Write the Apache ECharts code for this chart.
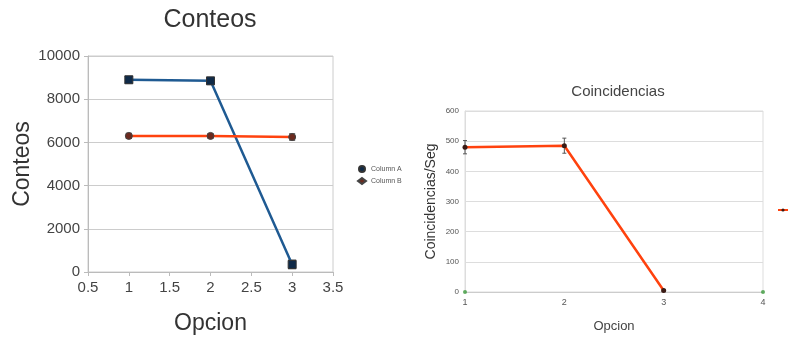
<!DOCTYPE html>
<html>
<head>
<meta charset="utf-8">
<script src="https://cdn.jsdelivr.net/npm/echarts@6/dist/echarts.min.js"></script>
<style>
  html, body { margin: 0; padding: 0; background: #fff; }
  #chart { width: 793px; height: 343px; }
</style>
</head>
<body>
<div id="chart"></div>
<script>
// left chart: Conteos
const opciones = [1, 2, 3]
const columnA = [8900, 8850, 350]
const columnB = [6300, 6300, 6250]
const errA = [150, 150, 200]
const errB = [120, 100, 150]
const conteosTicks = [0, 2000, 4000, 6000, 8000, 10000]

// right chart: Coincidencias
const opcionesC = [1, 2, 3]
const coincidencias = [480, 485, 5]
const errC = [22, 25, 3]
const extraX = [1, 4]
const extraY = [0, 0]

const font = 'Liberation Sans, Arial, sans-serif'
const textGray = '#444'

function errorBars(xs, ys, errs, xAxisIndex, yAxisIndex, color, cap) {
  return {
    type: 'custom',
    xAxisIndex, yAxisIndex,
    silent: true,
    z: 1,
    data: xs.map((x, i) => [x, ys[i] - errs[i], ys[i] + errs[i]]),
    renderItem(params, api) {
      const lo = api.coord([api.value(0), api.value(1)])
      const hi = api.coord([api.value(0), api.value(2)])
      const st = { stroke: color, lineWidth: 1 }
      return {
        type: 'group',
        children: [
          { type: 'line', shape: { x1: lo[0], y1: lo[1], x2: hi[0], y2: hi[1] }, style: st },
          { type: 'line', shape: { x1: lo[0] - cap, y1: lo[1], x2: lo[0] + cap, y2: lo[1] }, style: st },
          { type: 'line', shape: { x1: hi[0] - cap, y1: hi[1], x2: hi[0] + cap, y2: hi[1] }, style: st }
        ]
      }
    }
  }
}

const chart = echarts.init(document.getElementById('chart'))
chart.setOption({
  animation: false,
  backgroundColor: '#fff',
  title: [
    { text: 'Conteos', left: 205, top: 3, textAlign: 'center',
      textStyle: { fontFamily: font, fontSize: 25, fontWeight: 'normal', color: '#333' } },
    { text: 'Coincidencias', left: 613, top: 79, textAlign: 'center',
      textStyle: { fontFamily: font, fontSize: 15, fontWeight: 'normal', color: '#444' } }
  ],
  legend: [
    { orient: 'vertical', left: 352, top: 160, itemWidth: 8, itemHeight: 6, itemGap: 4,
      textStyle: { fontFamily: font, fontSize: 7, color: '#555' },
      data: [{ name: 'Column A', icon: 'circle' }, { name: 'Column B', icon: 'diamond' }] },
    { orient: 'vertical', left: 772, top: 203, itemWidth: 10, itemHeight: 4,
      textStyle: { fontFamily: font, fontSize: 4, color: '#bbb' },
      data: ['Column'] }
  ],
  grid: [
    { left: 88, right: 460, top: 56, bottom: 71, show: true, borderColor: '#ccc', borderWidth: 1 },
    { left: 465, right: 30, top: 111, bottom: 51, show: true, borderColor: '#ddd', borderWidth: 1 }
  ],
  xAxis: [
    { gridIndex: 0, type: 'value', min: 0.5, max: 3.5, interval: 0.5,
      name: 'Opcion', nameLocation: 'middle', nameGap: 40,
      nameTextStyle: { fontFamily: font, fontSize: 23, color: '#333' },
      axisLine: { lineStyle: { color: '#bbb' } },
      axisTick: { show: true, inside: false, length: 4, lineStyle: { color: '#bbb' } },
      axisLabel: { fontFamily: font, fontSize: 15, color: textGray, margin: 8 },
      splitLine: { show: false } },
    { gridIndex: 1, type: 'value', min: 1, max: 4, interval: 1,
      name: 'Opcion', nameLocation: 'middle', nameGap: 28,
      nameTextStyle: { fontFamily: font, fontSize: 13, color: '#444' },
      axisLine: { lineStyle: { color: '#ccc' } },
      axisTick: { show: false },
      axisLabel: { fontFamily: font, fontSize: 9, color: '#555', margin: 6 },
      splitLine: { show: false } }
  ],
  yAxis: [
    { gridIndex: 0, type: 'value', min: conteosTicks[0], max: conteosTicks[conteosTicks.length - 1], interval: 2000,
      name: 'Conteos', nameLocation: 'middle', nameGap: 52, nameRotate: 90,
      nameTextStyle: { fontFamily: font, fontSize: 23, color: '#333' },
      axisLine: { show: true, lineStyle: { color: '#bbb' } },
      axisTick: { show: true, length: 4, lineStyle: { color: '#bbb' } },
      axisLabel: { fontFamily: font, fontSize: 15, color: textGray, margin: 8, formatter: v => String(v) },
      splitLine: { lineStyle: { color: '#ccc' } } },
    { gridIndex: 1, type: 'value', min: 0, max: 600, interval: 100,
      name: 'Coincidencias/Seg', nameLocation: 'middle', nameGap: 27, nameRotate: 90,
      nameTextStyle: { fontFamily: font, fontSize: 14, color: '#333' },
      axisLine: { show: true, lineStyle: { color: '#ddd' } },
      axisTick: { show: false },
      axisLabel: { fontFamily: font, fontSize: 8, color: '#555', margin: 6 },
      splitLine: { lineStyle: { color: '#ddd' } } }
  ],
  series: [
    errorBars(opciones, columnA, errA, 0, 0, '#222', 4),
    errorBars(opciones, columnB, errB, 0, 0, '#444', 3),
    { name: 'Column A', type: 'line', xAxisIndex: 0, yAxisIndex: 0,
      data: opciones.map((x, i) => [x, columnA[i]]),
      symbol: 'rect', symbolSize: 8,
      lineStyle: { color: '#1f5a92', width: 2.5 },
      itemStyle: { color: '#0f2a48', borderColor: '#333', borderWidth: 1 } },
    { name: 'Column B', type: 'line', xAxisIndex: 0, yAxisIndex: 0,
      data: opciones.map((x, i) => [x, columnB[i]]),
      symbol: 'circle', symbolSize: 7,
      lineStyle: { color: '#ff420e', width: 2.5 },
      itemStyle: { color: '#6b2a1e', borderColor: '#444', borderWidth: 1 } },
    errorBars(opcionesC, coincidencias, errC, 1, 1, '#555', 2),
    { name: 'Column', type: 'line', xAxisIndex: 1, yAxisIndex: 1,
      data: opcionesC.map((x, i) => [x, coincidencias[i]]),
      symbol: 'circle', symbolSize: 5,
      lineStyle: { color: '#ff420e', width: 2.5 },
      itemStyle: { color: '#3a1a14' } },
    { name: 'extra', type: 'scatter', xAxisIndex: 1, yAxisIndex: 1,
      data: extraX.map((x, i) => [x, extraY[i]]),
      symbol: 'circle', symbolSize: 4,
      itemStyle: { color: '#3c9a3c' } }
  ]
})
</script>
</body>
</html>
